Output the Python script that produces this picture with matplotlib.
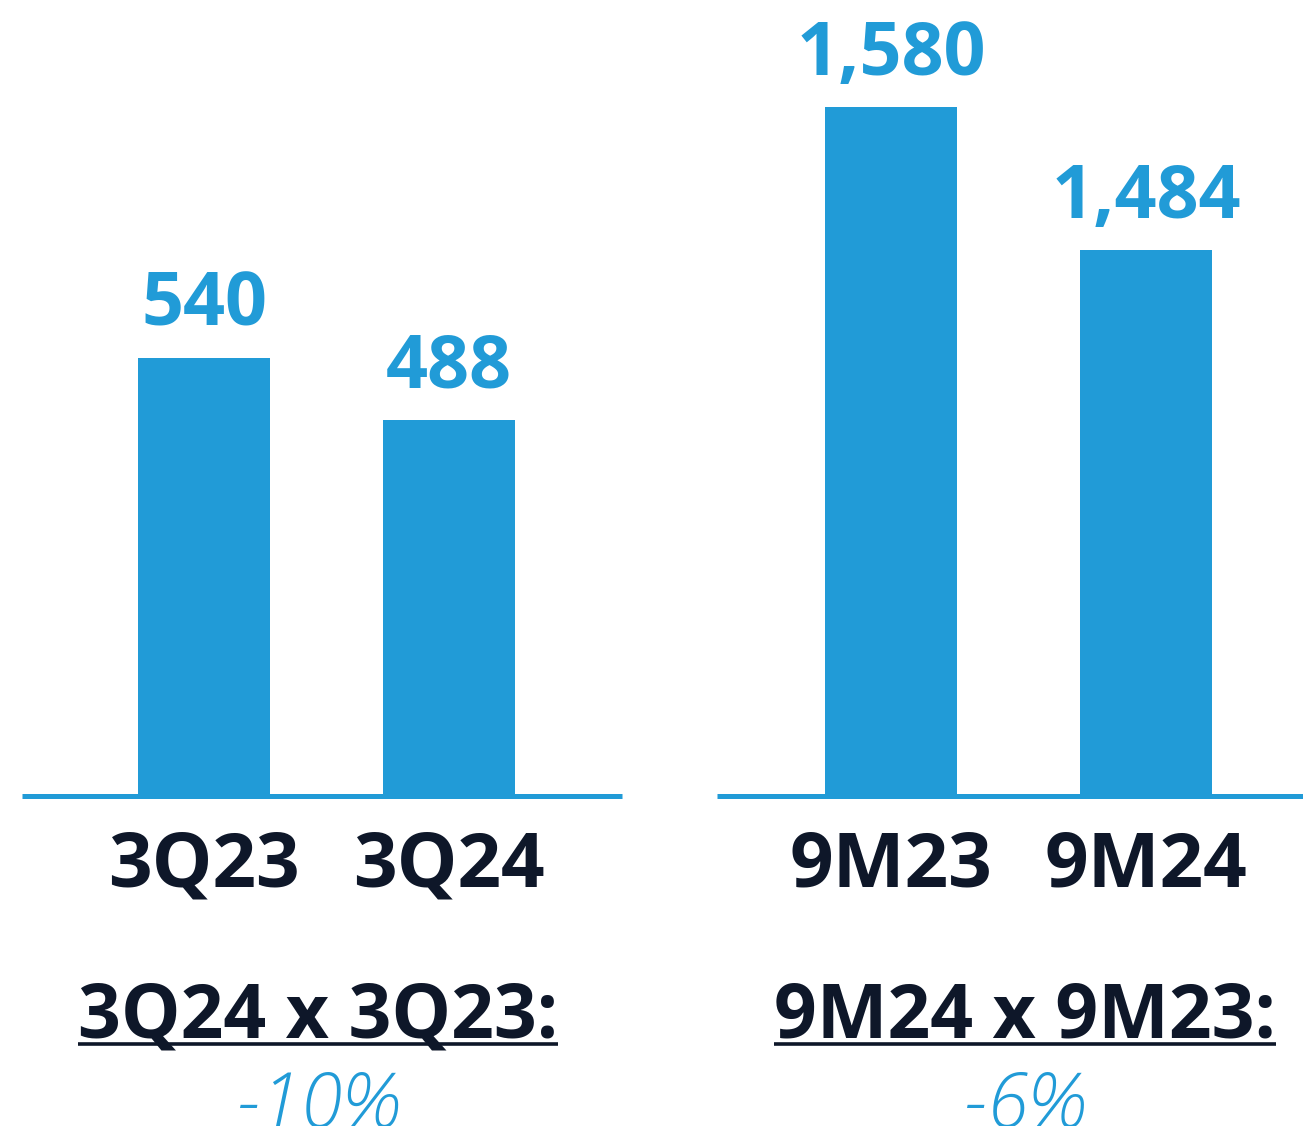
import matplotlib.pyplot as plt
from matplotlib.lines import Line2D

# === DATA ===
quarter_labels = ["3Q23", "3Q24"]
quarter_values = [540, 488]
ytd_labels = ["9M23", "9M24"]
ytd_values = [1580, 1484]
compare_titles = ["3Q24 x 3Q23:", "9M24 x 9M23:"]
compare_changes = ["-10%", "-6%"]

# === STYLE ===
BLUE = "#219BD7"
NAVY = "#0E1729"
W, H = 1303, 1126          # output size in pixels
BASE = 796                 # baseline row (px from top)

plt.rcParams["font.family"] = ["Open Sans", "DejaVu Sans"]

fig = plt.figure(figsize=(W / 100, H / 100), dpi=100)


def draw_panel(left_px, width_px, labels, values, xlim, bar_w, ylim):
    ax = fig.add_axes([left_px / W, (H - BASE) / H, width_px / W, BASE / H])
    x = list(range(len(labels)))
    ax.bar(x, values, width=bar_w, color=BLUE)
    for xi, v in zip(x, values):
        ax.annotate(f"{v:,}", (xi, v), xytext=(0, 23), textcoords="offset points",
                    ha="center", va="baseline", fontsize=53, fontweight="bold",
                    color=BLUE)
    ax.set_xticks(x, labels, fontsize=55, fontweight="bold", color=NAVY)
    ax.tick_params(axis="x", length=0, pad=24)
    ax.set_yticks([])
    ax.set_xlim(*xlim)
    ax.set_ylim(*ylim)
    for s in ["top", "left", "right"]:
        ax.spines[s].set_visible(False)
    ax.spines["bottom"].set_color(BLUE)
    ax.spines["bottom"].set_linewidth(3.6)
    ax.spines["bottom"].set_capstyle("butt")
    ax.patch.set_alpha(0)
    return ax


draw_panel(22, 600, quarter_labels, quarter_values, (-0.743, 1.706), 0.539, (172.6, 840.2))
draw_panel(717, 586, ytd_labels, ytd_values, (-0.682, 1.616), 0.518, (1117.5, 1651.9))

# === COMPARISON NOTES ===
# (the change figures sit partly below the bottom edge, as in the source slide)
centers = [318, 1025]
titles = []
for cx, title, change in zip(centers, compare_titles, compare_changes):
    t = fig.text(cx / W, (H - 1037) / H, title, ha="center", va="baseline",
                 fontsize=54, fontweight="bold", color=NAVY)
    titles.append(t)
    fig.text(cx / W, (H - 1127) / H, change, ha="center", va="baseline",
             fontsize=54, style="italic", fontweight="light", color=BLUE)

# underline each title to its own width
fig.canvas.draw()
renderer = fig.canvas.get_renderer()
for t in titles:
    bb = t.get_window_extent(renderer)
    y = (H - 1044) / H
    fig.add_artist(Line2D([bb.x0 / W, bb.x1 / W], [y, y], transform=fig.transFigure,
                          color=NAVY, linewidth=2.6, solid_capstyle="butt"))

fig.savefig("out.png", dpi=100)
